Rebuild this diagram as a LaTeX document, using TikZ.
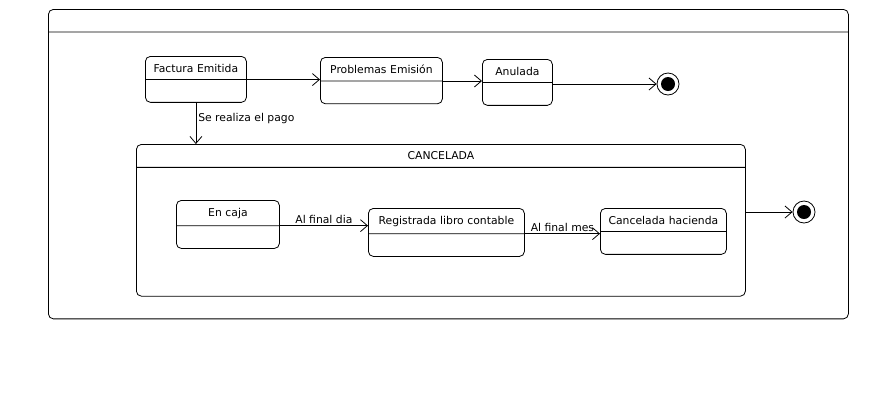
\documentclass[tikz,border=0pt]{standalone}
\usepackage{fontspec}
\setmainfont{DejaVu Sans}
\usetikzlibrary{shapes.multipart}
\usetikzlibrary{arrows.meta}
\tikzset{State/.style={rectangle split, rectangle split parts=2, draw, rounded corners=5pt,
           anchor=north west, inner xsep=3pt, inner ysep=7pt, align=center,
           font=\fontsize{10.8}{12}\selectfont, rectangle split empty part height=8pt},
         Final/.style={circle, draw, fill=white, minimum size=22pt, inner sep=0pt,
           path picture={\fill[black] (path picture bounding box.center) circle (7pt);}},
         Trans/.style={-{Straight Barb[length=7pt,width=12pt]}, line width=0.8pt}}

\begin{document}
\begin{tikzpicture}[x=1pt, y=-1pt, line width=0.8pt]
  \useasboundingbox (0,0) rectangle (896,408);
  \node[State, text width=794pt, rectangle split empty part height=272pt] (Frame) at (48,9) {\vphantom{A}};
  \node[State, text width=95pt] (FE) at (145,56) {Factura Emitida};
  \node[State, text width=116pt] (PE) at (320,57) {Problemas Emisión};
  \node[State, text width=64pt] (AN) at (482,59) {Anulada};
  \node[Final] (F1) at (668,84) {};
  \node[State, text width=603pt, rectangle split empty part height=114pt] (CA) at (136,144) {CANCELADA};
  \node[State, text width=97pt] (EC) at (176,200) {En caja};
  \node[State, text width=150pt] (RL) at (368,208) {Registrada libro contable};
  \node[State, text width=120pt] (CH) at (600,208) {Cancelada hacienda};
  \node[Final] (F2) at (804,212) {};
  \path[Trans, every node/.style={font=\fontsize{10.8}{12}\selectfont, inner sep=2pt}]
    (FE.text split east) edge (FE.text split east -| PE.west)
    (PE.text split east) edge (PE.text split east -| AN.west)
    (AN.text split east |- F1) edge (F1)
    (FE.south) edge node[right, pos=0.38] {Se realiza el pago} (FE.south |- CA.north)
    (EC.text split east) edge node[above] {Al final dia} (EC.text split east -| RL.west)
    (RL.text split east) edge node[above] {Al final mes} (RL.text split east -| CH.west)
    (CA.east |- F2) edge (F2);
\end{tikzpicture}
\end{document}
